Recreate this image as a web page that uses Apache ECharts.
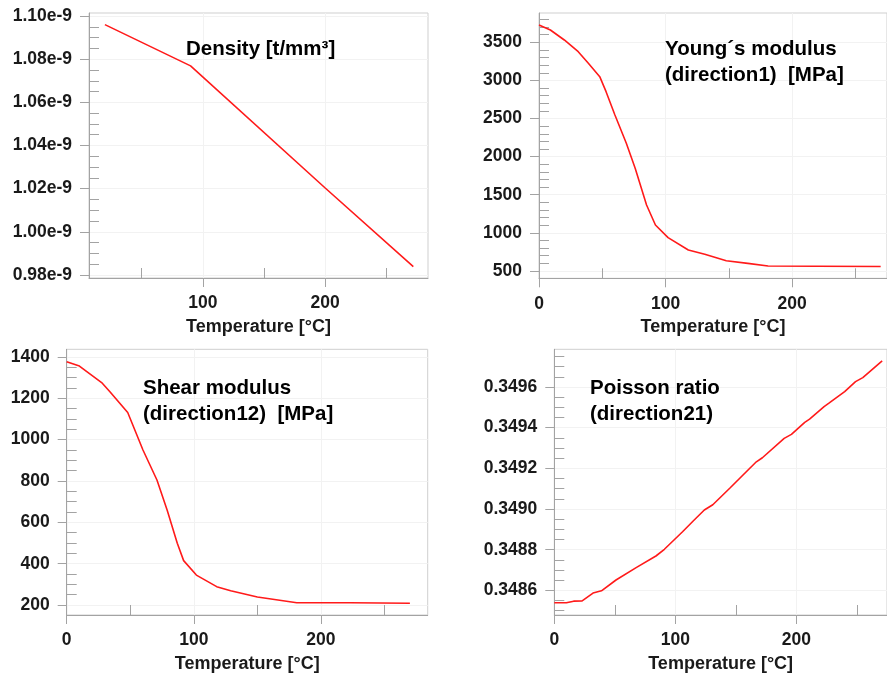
<!DOCTYPE html>
<html><head><meta charset="utf-8">
<script src="https://cdn.jsdelivr.net/npm/echarts@6/dist/echarts.min.js"></script>
<style>html,body{margin:0;padding:0;background:#fff}#c{width:887px;height:676px}</style>
</head><body><div id="c"></div>
<script>
// ---- Data ----
const densityTemp = [20, 90, 200, 272];
const densityVal  = [1.096e-9, 1.0769e-9, 1.0203e-9, 0.9839e-9];

const youngTemp = [0, 9, 20, 31, 39, 48, 53, 60, 69, 76, 85, 92, 102, 118, 131, 148, 165, 181, 220, 270];
const youngVal  = [3727, 3661, 3530, 3377, 3225, 3049, 2852, 2546, 2175, 1847, 1366, 1103, 937, 775, 719, 635, 600, 566, 562, 558];

const shearTemp = [0, 10, 28, 34, 48, 60, 71, 79, 87, 92, 102, 118, 129, 150, 181, 223, 270];
const shearVal  = [1377, 1356, 1273, 1232, 1131, 950, 805, 660, 499, 415, 345, 289, 269, 239, 211, 211, 209];

const poissonTemp = [0, 10, 16, 23, 32, 39, 51, 68, 84, 91, 106, 115, 124, 131, 145, 167, 172, 190, 196, 207, 211, 223, 227, 240, 249, 255, 271];
const poissonVal  = [0.348539, 0.348539, 0.348547, 0.348548, 0.348587, 0.348598, 0.348651, 0.348713, 0.348769, 0.348802, 0.348888, 0.348942, 0.348995, 0.349021, 0.349102, 0.349232, 0.349252, 0.349347, 0.349367, 0.349426, 0.349442, 0.349503, 0.34952, 0.349577, 0.349626, 0.349646, 0.349728];

// ---- Tick labels ----
const tempTicks1 = [100, 200];
const tempTicks = [0, 100, 200];
const tempMinorTicks = [50, 150, 250];
const densityTicks = [0.98e-9, 1.00e-9, 1.02e-9, 1.04e-9, 1.06e-9, 1.08e-9, 1.10e-9];
const youngTicks = [500, 1000, 1500, 2000, 2500, 3000, 3500];
const shearTicks = [200, 400, 600, 800, 1000, 1200, 1400];
const poissonTicks = [0.3486, 0.3488, 0.3490, 0.3492, 0.3494, 0.3496];

const titles = ['Density [t/mm³]', 'Young´s modulus\n(direction1)  [MPa]', 'Shear modulus\n(direction12)  [MPa]', 'Poisson ratio\n(direction21)'];
const axisName = 'Temperature [°C]';

// ---- helpers ----
function minorList(from, to, step, majors) {
  const out = [];
  const n = Math.round((to - from) / step);
  for (let i = 0; i <= n; i++) {
    const v = Number((from + i * step).toPrecision(10));
    if (!majors.some(m => Math.abs(m - v) < step * 1e-3)) out.push(v);
  }
  return out;
}
const pairs = (xs, ys) => xs.map((x, i) => [x, ys[i]]);

const FONT = 'Liberation Sans, Arial, sans-serif';
const AX = '#a3a3a3';
const TXT = '#1a1a1a';

const panels = [
  { grid: {left: 89, top: 13, width: 339, height: 265},
    x: {min: 7, max: 284, ticks: tempTicks1, minor: tempMinorTicks},
    y: {min: 0.9786e-9, max: 1.1014e-9, ticks: densityTicks, minor: minorList(0.98e-9, 1.10e-9, 0.005e-9, densityTicks), split: 5,
        fmt: v => (v * 1e9).toFixed(2) + 'e-9'},
    data: pairs(densityTemp, densityVal),
    title: {text: titles[0], left: 186, top: 36} },
  { grid: {left: 539, top: 13, width: 350, height: 265.3},
    x: {min: 0, max: 275, ticks: tempTicks, minor: tempMinorTicks},
    y: {min: 404, max: 3884, ticks: youngTicks, minor: minorList(500, 3800, 100, youngTicks), split: 6,
        fmt: v => String(Math.round(v))},
    data: pairs(youngTemp, youngVal),
    title: {text: titles[1], left: 665, top: 36.5} },
  { grid: {left: 66.7, top: 349.3, width: 361, height: 265.7},
    x: {min: 0, max: 284, ticks: tempTicks, minor: tempMinorTicks},
    y: {min: 152, max: 1437, ticks: shearTicks, minor: minorList(250, 1400, 50, shearTicks), split: 6,
        fmt: v => String(Math.round(v))},
    data: pairs(shearTemp, shearVal),
    title: {text: titles[2], left: 143, top: 375} },
  { grid: {left: 554.3, top: 349.3, width: 335, height: 265.7},
    x: {min: 0, max: 275, ticks: tempTicks, minor: tempMinorTicks},
    y: {min: 0.348479, max: 0.349785, ticks: poissonTicks, minor: minorList(0.3485, 0.34975, 0.00005, poissonTicks), split: 6,
        fmt: v => v.toFixed(4)},
    data: pairs(poissonTemp, poissonVal),
    title: {text: titles[3], left: 590, top: 375} }
];

const grid = [], xAxis = [], yAxis = [], series = [], title = [];
panels.forEach((p, i) => {
  grid.push(Object.assign({show: true, borderColor: '#cfcfcf', borderWidth: 1, backgroundColor: '#fff'}, p.grid));
  title.push({
    text: p.title.text, left: p.title.left, top: p.title.top, padding: 0,
    textStyle: {fontFamily: FONT, fontSize: 20.5, fontWeight: 'bold', color: '#000', lineHeight: 26}
  });
  // main x axis
  xAxis.push({
    type: 'value', gridIndex: i, position: 'bottom', min: p.x.min, max: p.x.max, splitNumber: 3,
    name: axisName, nameLocation: 'middle', nameGap: 40,
    nameTextStyle: {fontFamily: FONT, fontSize: 18, fontWeight: 'bold', color: TXT},
    axisLine: {show: true, onZero: false, lineStyle: {color: AX, width: 1}},
    axisTick: {show: true, inside: false, length: 9, customValues: p.x.ticks, lineStyle: {color: AX}},
    axisLabel: {show: true, margin: 16.5, customValues: p.x.ticks, fontFamily: FONT, fontSize: 17.5, fontWeight: 'bold', color: TXT},
    splitLine: {show: true, lineStyle: {color: '#f2f2f2', width: 1}}
  });
  // minor x axis
  xAxis.push({
    type: 'value', gridIndex: i, position: 'bottom', offset: 0, min: p.x.min, max: p.x.max,
    axisLine: {show: false},
    axisTick: {show: true, inside: true, length: 10, customValues: p.x.minor, lineStyle: {color: AX}},
    axisLabel: {show: false}, splitLine: {show: false}
  });
  // main y axis
  yAxis.push({
    type: 'value', gridIndex: i, position: 'left', min: p.y.min, max: p.y.max, splitNumber: p.y.split,
    axisLine: {show: true, onZero: false, lineStyle: {color: AX, width: 1}},
    axisTick: {show: true, inside: false, length: 9, customValues: p.y.ticks, lineStyle: {color: AX}},
    axisLabel: {show: true, margin: 17, customValues: p.y.ticks, formatter: p.y.fmt, fontFamily: FONT, fontSize: 17.5, fontWeight: 'bold', color: TXT},
    splitLine: {show: true, lineStyle: {color: '#f2f2f2', width: 1}}
  });
  // minor y axis
  yAxis.push({
    type: 'value', gridIndex: i, position: 'left', offset: 0, min: p.y.min, max: p.y.max,
    axisLine: {show: false},
    axisTick: {show: true, inside: true, length: 10, customValues: p.y.minor, lineStyle: {color: AX}},
    axisLabel: {show: false}, splitLine: {show: false}
  });
  series.push({
    type: 'line', xAxisIndex: 2 * i, yAxisIndex: 2 * i, data: p.data,
    showSymbol: false, symbol: 'none', smooth: false,
    lineStyle: {color: '#ff1a1a', width: 1.6}, silent: true
  });
});

const chart = echarts.init(document.getElementById('c'), null, {renderer: 'canvas'});
chart.setOption({animation: false, backgroundColor: '#fff', title, grid, xAxis, yAxis, series});
</script>
</body></html>
